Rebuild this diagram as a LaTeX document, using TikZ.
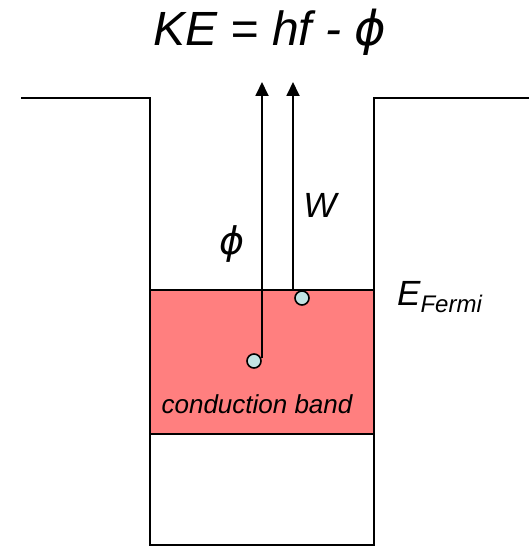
\documentclass[tikz,border=0pt]{standalone}
\usepackage{fontspec}
\setmainfont{Liberation Sans}
\newfontfamily\phifont{DejaVu Sans}
\usetikzlibrary{arrows.meta}
\definecolor{band}{HTML}{FF7F7F}
\definecolor{ball}{HTML}{C2E3E3}
\tikzset{
  wall/.style={line width=2pt, line cap=rect},
  ballst/.style={circle, draw=black, line width=1.6pt, fill=ball, minimum size=14pt, inner sep=0pt},
  arr/.style={line width=1.8pt, -{Triangle[length=14pt,width=13pt]}},
  lbl/.style={inner sep=0pt, font=\itshape}
}
\newcommand{\myphi}{{\phifont\itshape ϕ}}
\begin{document}
\begin{tikzpicture}[x=1pt,y=-1pt]
\useasboundingbox (0,0) rectangle (529,548);
% conduction band
\fill[band] (150,290) rectangle (374,434);
\draw[wall] (150,290) -- (374,290);
\draw[wall] (150,434) -- (374,434);
% well
\draw[wall] (22,98) -- (150,98) -- (150,545) -- (374,545) -- (374,98) -- (529,98);
% arrows
\coordinate (s1) at (262,358);
\coordinate (t1) at (262,82);
\coordinate (s2) at (293,290);
\coordinate (t2) at (293,82);
\draw[arr] (s1) -- (t1);
\draw[arr] (s2) -- (t2);
% electrons
\node[ballst] (e1) at (254,361) {};
\node[ballst] (e2) at (302,298) {};
% labels
\node[lbl, font=\itshape\fontsize{48}{48}\selectfont] (ke) at (270,32) {KE = hf - \myphi};
\node[lbl, font=\fontsize{38}{38}\selectfont] (phi) at (232,244) {\myphi};
\node[lbl, font=\itshape\fontsize{35}{35}\selectfont] (w) at (320,205) {W};
\node[lbl, font=\itshape\fontsize{35}{35}\selectfont, anchor=base west] (ef) at (397,305) {E\raisebox{-7pt}{\fontsize{24}{24}\selectfont Fermi}};
\node[lbl, font=\itshape\fontsize{26}{26}\selectfont] (cb) at (257,404) {conduction band};
\end{tikzpicture}
\end{document}
